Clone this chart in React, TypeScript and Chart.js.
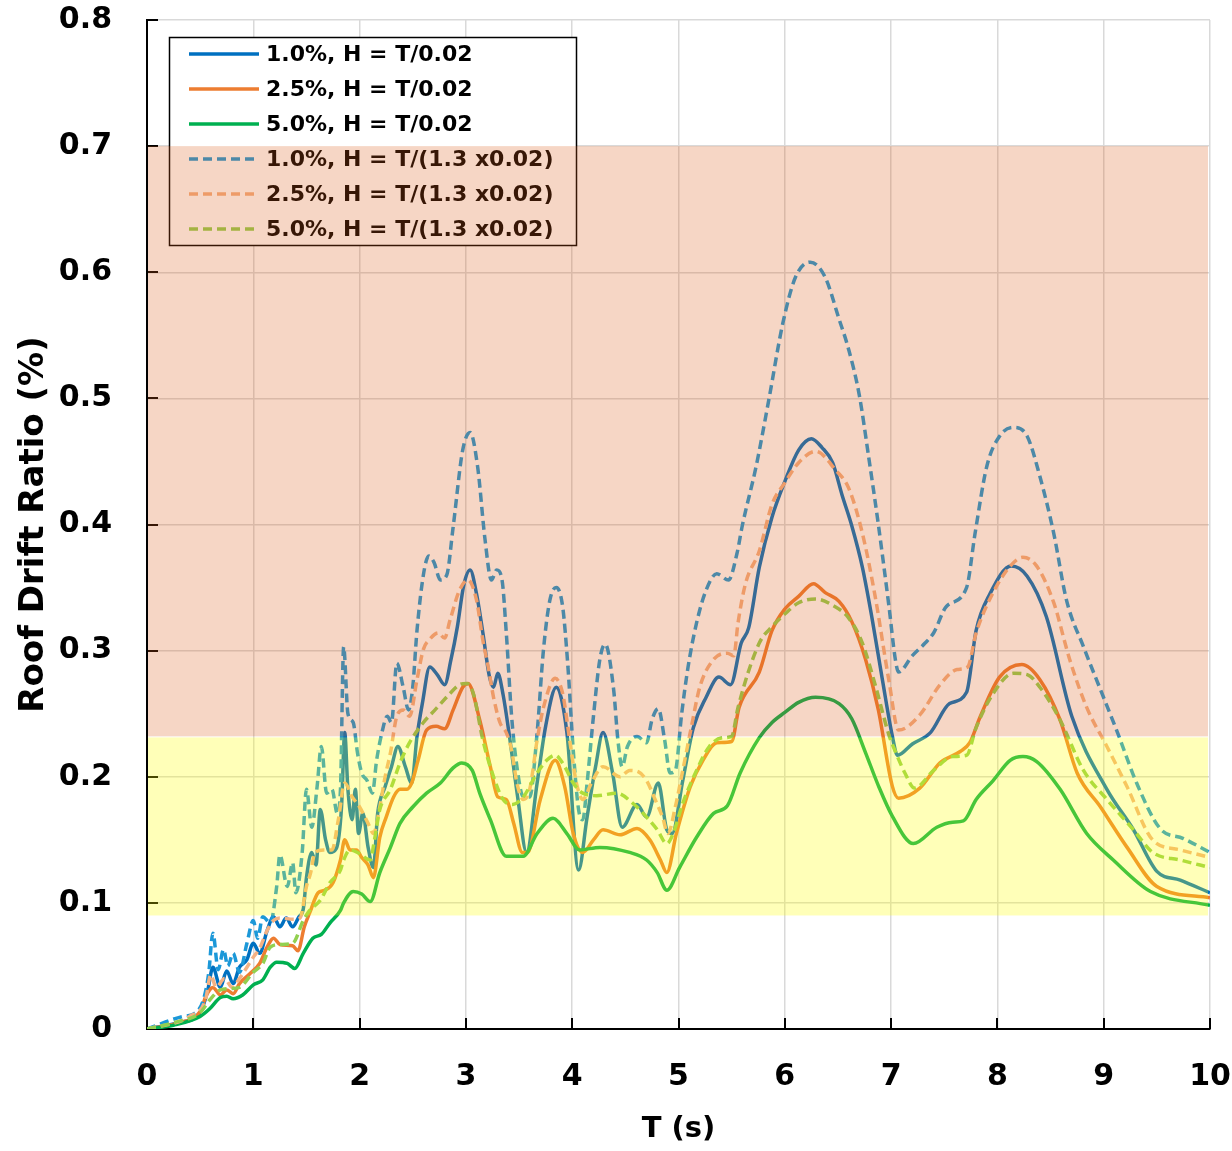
import React, { useEffect, useRef } from 'react';
import { Chart, registerables } from 'chart.js';

Chart.register(...registerables);

// ---------- DATA ----------
const T_SOLID_10 = [0, 0.3, 0.5, 0.57, 0.62, 0.69, 0.75, 0.81, 0.87, 0.94, 1.0, 1.06, 1.13, 1.19, 1.25, 1.31, 1.37, 1.43, 1.47, 1.5, 1.55, 1.59, 1.63, 1.68, 1.72, 1.78, 1.83, 1.86, 1.89, 1.93, 1.96, 1.99, 2.03, 2.08, 2.13, 2.17, 2.24, 2.3, 2.36, 2.43, 2.49, 2.54, 2.59, 2.66, 2.73, 2.8, 2.86, 2.92, 2.98, 3.04, 3.1, 3.16, 3.22, 3.26, 3.3, 3.35, 3.41, 3.49, 3.57, 3.67, 3.75, 3.85, 3.95, 4.06, 4.14, 4.22, 4.29, 4.38, 4.47, 4.61, 4.7, 4.81, 4.89, 4.94, 5.04, 5.14, 5.26, 5.38, 5.49, 5.59, 5.66, 5.76, 5.88, 6.0, 6.13, 6.25, 6.35, 6.45, 6.54, 6.63, 6.73, 6.82, 6.92, 7.01, 7.06, 7.2, 7.37, 7.55, 7.71, 7.8, 7.93, 8.13, 8.28, 8.46, 8.7, 9.03, 9.28, 9.5, 9.72, 10.0];
const V_SOLID_10 = [0, 0.005, 0.013, 0.03, 0.049, 0.033, 0.046, 0.036, 0.049, 0.055, 0.068, 0.06, 0.078, 0.089, 0.081, 0.088, 0.081, 0.089, 0.095, 0.12, 0.14, 0.13, 0.174, 0.15, 0.14, 0.143, 0.176, 0.235, 0.19, 0.166, 0.19, 0.155, 0.171, 0.144, 0.128, 0.171, 0.192, 0.208, 0.224, 0.208, 0.195, 0.232, 0.258, 0.287, 0.281, 0.273, 0.293, 0.319, 0.352, 0.364, 0.345, 0.314, 0.28, 0.271, 0.282, 0.265, 0.232, 0.182, 0.14, 0.195, 0.24, 0.271, 0.235, 0.126, 0.168, 0.208, 0.235, 0.203, 0.16, 0.178, 0.168, 0.195, 0.158, 0.155, 0.197, 0.239, 0.263, 0.279, 0.273, 0.306, 0.318, 0.366, 0.406, 0.434, 0.459, 0.468, 0.461, 0.449, 0.423, 0.399, 0.366, 0.326, 0.276, 0.233, 0.217, 0.226, 0.235, 0.258, 0.267, 0.316, 0.345, 0.367, 0.359, 0.327, 0.248, 0.19, 0.158, 0.125, 0.118, 0.108];

const T_SOLID_25 = [0, 0.3, 0.5, 0.56, 0.62, 0.69, 0.75, 0.81, 0.87, 0.97, 1.06, 1.13, 1.19, 1.25, 1.37, 1.42, 1.48, 1.53, 1.61, 1.67, 1.75, 1.82, 1.86, 1.91, 1.97, 2.02, 2.08, 2.13, 2.19, 2.25, 2.32, 2.38, 2.44, 2.49, 2.55, 2.63, 2.72, 2.8, 2.88, 2.97, 3.02, 3.13, 3.23, 3.3, 3.38, 3.45, 3.53, 3.58, 3.7, 3.84, 3.93, 4.01, 4.1, 4.2, 4.29, 4.45, 4.61, 4.73, 4.83, 4.89, 4.98, 5.11, 5.23, 5.36, 5.5, 5.57, 5.76, 5.88, 6.0, 6.13, 6.27, 6.38, 6.51, 6.63, 6.76, 6.88, 7.01, 7.07, 7.27, 7.46, 7.65, 7.74, 7.84, 8.02, 8.23, 8.4, 8.59, 8.75, 8.97, 9.22, 9.5, 10.0];
const V_SOLID_25 = [0, 0.005, 0.014, 0.027, 0.033, 0.027, 0.031, 0.028, 0.036, 0.044, 0.052, 0.065, 0.072, 0.067, 0.066, 0.062, 0.081, 0.092, 0.108, 0.11, 0.116, 0.134, 0.15, 0.142, 0.142, 0.136, 0.13, 0.12, 0.152, 0.168, 0.184, 0.19, 0.19, 0.195, 0.213, 0.237, 0.24, 0.238, 0.253, 0.271, 0.274, 0.245, 0.208, 0.184, 0.182, 0.163, 0.14, 0.14, 0.182, 0.213, 0.192, 0.155, 0.14, 0.15, 0.158, 0.154, 0.159, 0.15, 0.134, 0.124, 0.155, 0.192, 0.213, 0.227, 0.228, 0.255, 0.283, 0.316, 0.333, 0.343, 0.353, 0.346, 0.339, 0.323, 0.293, 0.253, 0.193, 0.183, 0.191, 0.211, 0.22, 0.227, 0.248, 0.279, 0.289, 0.277, 0.245, 0.203, 0.176, 0.144, 0.113, 0.104];

const T_SOLID_50 = [0, 0.25, 0.5, 0.59, 0.69, 0.75, 0.81, 0.9, 1.0, 1.09, 1.16, 1.22, 1.32, 1.39, 1.47, 1.56, 1.64, 1.72, 1.82, 1.85, 1.94, 2.02, 2.1, 2.19, 2.29, 2.38, 2.5, 2.63, 2.76, 2.88, 2.96, 3.06, 3.13, 3.23, 3.38, 3.54, 3.67, 3.82, 3.95, 4.07, 4.26, 4.54, 4.7, 4.8, 4.89, 5.01, 5.17, 5.33, 5.46, 5.58, 5.76, 5.88, 6.0, 6.13, 6.29, 6.51, 6.63, 6.76, 6.88, 7.01, 7.21, 7.43, 7.58, 7.68, 7.8, 7.96, 8.12, 8.24, 8.37, 8.59, 8.84, 9.09, 9.44, 10.0];
const V_SOLID_50 = [0, 0.003, 0.01, 0.016, 0.025, 0.026, 0.024, 0.027, 0.035, 0.039, 0.049, 0.053, 0.052, 0.048, 0.06, 0.072, 0.075, 0.084, 0.094, 0.1, 0.109, 0.107, 0.101, 0.124, 0.144, 0.163, 0.176, 0.187, 0.195, 0.207, 0.211, 0.205, 0.187, 0.166, 0.137, 0.137, 0.155, 0.167, 0.155, 0.142, 0.144, 0.14, 0.134, 0.124, 0.11, 0.128, 0.152, 0.171, 0.177, 0.203, 0.231, 0.243, 0.251, 0.259, 0.263, 0.258, 0.246, 0.219, 0.193, 0.169, 0.147, 0.16, 0.164, 0.165, 0.182, 0.197, 0.213, 0.216, 0.212, 0.19, 0.155, 0.134, 0.109, 0.098];

const T_DASH_10 = [0, 0.34, 0.44, 0.53, 0.58, 0.62, 0.67, 0.72, 0.76, 0.81, 0.87, 0.94, 1.0, 1.04, 1.09, 1.16, 1.22, 1.25, 1.32, 1.37, 1.4, 1.46, 1.5, 1.55, 1.6, 1.64, 1.69, 1.74, 1.79, 1.82, 1.85, 1.89, 1.94, 1.98, 2.02, 2.07, 2.12, 2.16, 2.21, 2.26, 2.3, 2.35, 2.41, 2.46, 2.5, 2.54, 2.6, 2.65, 2.7, 2.76, 2.82, 2.88, 2.97, 3.04, 3.11, 3.18, 3.24, 3.29, 3.34, 3.38, 3.43, 3.48, 3.54, 3.6, 3.67, 3.73, 3.79, 3.85, 3.91, 3.96, 4.01, 4.06, 4.1, 4.14, 4.2, 4.26, 4.31, 4.39, 4.43, 4.47, 4.52, 4.61, 4.7, 4.75, 4.81, 4.87, 4.92, 4.97, 5.03, 5.09, 5.17, 5.26, 5.36, 5.47, 5.55, 5.6, 5.73, 5.85, 5.98, 6.1, 6.24, 6.38, 6.51, 6.6, 6.7, 6.79, 6.88, 6.98, 7.04, 7.07, 7.2, 7.32, 7.4, 7.52, 7.71, 7.79, 7.9, 8.02, 8.15, 8.28, 8.4, 8.53, 8.65, 8.81, 8.97, 9.13, 9.31, 9.53, 9.75, 10.0];
const V_DASH_10 = [0, 0.01, 0.012, 0.023, 0.044, 0.076, 0.047, 0.063, 0.05, 0.06, 0.045, 0.068, 0.086, 0.072, 0.089, 0.084, 0.113, 0.138, 0.113, 0.132, 0.108, 0.14, 0.19, 0.16, 0.192, 0.224, 0.187, 0.19, 0.171, 0.19, 0.303, 0.25, 0.243, 0.219, 0.203, 0.197, 0.187, 0.213, 0.235, 0.248, 0.243, 0.29, 0.271, 0.253, 0.271, 0.316, 0.36, 0.375, 0.37, 0.356, 0.36, 0.398, 0.459, 0.473, 0.446, 0.388, 0.356, 0.364, 0.356, 0.314, 0.248, 0.208, 0.184, 0.184, 0.235, 0.301, 0.34, 0.35, 0.335, 0.287, 0.221, 0.174, 0.166, 0.195, 0.248, 0.293, 0.305, 0.269, 0.229, 0.208, 0.224, 0.232, 0.227, 0.245, 0.254, 0.229, 0.203, 0.205, 0.25, 0.287, 0.322, 0.348, 0.361, 0.356, 0.377, 0.399, 0.446, 0.499, 0.559, 0.596, 0.608, 0.596, 0.563, 0.539, 0.503, 0.453, 0.4, 0.335, 0.293, 0.283, 0.296, 0.306, 0.314, 0.335, 0.35, 0.393, 0.446, 0.47, 0.477, 0.47, 0.438, 0.393, 0.34, 0.303, 0.269, 0.235, 0.195, 0.159, 0.151, 0.14];

const T_DASH_25 = [0, 0.4, 0.55, 0.6, 0.65, 0.73, 0.8, 0.87, 0.94, 1.0, 1.06, 1.13, 1.19, 1.25, 1.38, 1.44, 1.5, 1.54, 1.58, 1.66, 1.74, 1.8, 1.86, 1.93, 2.0, 2.08, 2.13, 2.19, 2.24, 2.29, 2.35, 2.41, 2.47, 2.54, 2.6, 2.66, 2.74, 2.8, 2.85, 2.94, 3.02, 3.1, 3.16, 3.21, 3.26, 3.32, 3.38, 3.43, 3.48, 3.54, 3.6, 3.67, 3.73, 3.84, 3.91, 3.98, 4.04, 4.1, 4.18, 4.29, 4.45, 4.54, 4.62, 4.7, 4.78, 4.85, 4.9, 4.97, 5.04, 5.12, 5.2, 5.33, 5.46, 5.52, 5.56, 5.63, 5.76, 5.88, 6.0, 6.13, 6.29, 6.48, 6.6, 6.73, 6.85, 6.98, 7.07, 7.27, 7.46, 7.62, 7.72, 7.8, 7.96, 8.12, 8.24, 8.37, 8.53, 8.68, 8.84, 9.03, 9.22, 9.46, 9.72, 10.0];
const V_DASH_25 = [0, 0.01, 0.023, 0.043, 0.033, 0.04, 0.033, 0.04, 0.049, 0.057, 0.064, 0.078, 0.086, 0.088, 0.087, 0.088, 0.113, 0.124, 0.14, 0.142, 0.142, 0.166, 0.195, 0.184, 0.176, 0.163, 0.155, 0.176, 0.2, 0.219, 0.248, 0.253, 0.248, 0.277, 0.301, 0.309, 0.314, 0.31, 0.324, 0.348, 0.356, 0.34, 0.308, 0.287, 0.263, 0.243, 0.235, 0.221, 0.195, 0.182, 0.19, 0.229, 0.255, 0.278, 0.266, 0.227, 0.195, 0.182, 0.195, 0.208, 0.2, 0.205, 0.204, 0.197, 0.182, 0.168, 0.155, 0.176, 0.205, 0.239, 0.271, 0.293, 0.298, 0.296, 0.322, 0.353, 0.379, 0.416, 0.433, 0.449, 0.458, 0.443, 0.429, 0.393, 0.343, 0.276, 0.237, 0.249, 0.273, 0.285, 0.287, 0.314, 0.346, 0.367, 0.374, 0.367, 0.338, 0.293, 0.255, 0.224, 0.192, 0.15, 0.142, 0.136];

const T_DASH_50 = [0, 0.25, 0.5, 0.59, 0.69, 0.78, 0.87, 1.0, 1.09, 1.16, 1.25, 1.37, 1.47, 1.53, 1.63, 1.72, 1.82, 1.85, 1.91, 2.0, 2.1, 2.14, 2.19, 2.29, 2.38, 2.47, 2.6, 2.72, 2.85, 2.94, 3.01, 3.07, 3.16, 3.26, 3.35, 3.44, 3.54, 3.67, 3.76, 3.84, 3.93, 4.01, 4.1, 4.23, 4.42, 4.57, 4.7, 4.8, 4.89, 4.95, 5.04, 5.17, 5.29, 5.42, 5.5, 5.56, 5.76, 5.88, 6.0, 6.13, 6.29, 6.45, 6.6, 6.73, 6.85, 6.98, 7.05, 7.13, 7.22, 7.4, 7.58, 7.71, 7.8, 7.96, 8.15, 8.28, 8.4, 8.59, 8.81, 9.03, 9.28, 9.46, 9.72, 10.0];
const V_DASH_50 = [0, 0.005, 0.013, 0.023, 0.031, 0.032, 0.033, 0.045, 0.052, 0.065, 0.067, 0.068, 0.086, 0.094, 0.102, 0.116, 0.126, 0.134, 0.142, 0.139, 0.134, 0.15, 0.174, 0.19, 0.211, 0.227, 0.243, 0.254, 0.266, 0.273, 0.274, 0.266, 0.229, 0.2, 0.182, 0.178, 0.184, 0.203, 0.213, 0.217, 0.208, 0.195, 0.187, 0.185, 0.187, 0.179, 0.168, 0.158, 0.147, 0.155, 0.179, 0.205, 0.224, 0.231, 0.232, 0.255, 0.306, 0.319, 0.329, 0.338, 0.341, 0.336, 0.326, 0.306, 0.273, 0.233, 0.218, 0.203, 0.191, 0.205, 0.216, 0.217, 0.239, 0.266, 0.282, 0.281, 0.271, 0.245, 0.205, 0.182, 0.158, 0.14, 0.134, 0.128];

const SERIES_LABELS = [
  '1.0%, H = T/0.02',
  '2.5%, H = T/0.02',
  '5.0%, H = T/0.02',
  '1.0%, H = T/(1.3 x0.02)',
  '2.5%, H = T/(1.3 x0.02)',
  '5.0%, H = T/(1.3 x0.02)',
];
const SERIES_T = [T_SOLID_10, T_SOLID_25, T_SOLID_50, T_DASH_10, T_DASH_25, T_DASH_50];
const SERIES_V = [V_SOLID_10, V_SOLID_25, V_SOLID_50, V_DASH_10, V_DASH_25, V_DASH_50];
const SERIES_COLORS = ['#0070C0', '#ED7D31', '#00B050', '#1C98D8', '#F4B183', '#92D050'];
const SERIES_DASHED = [false, false, false, true, true, true];

const X_MIN = 0;
const X_MAX = 10;
const X_STEP = 1;
const Y_MIN = 0;
const Y_MAX = 0.8;
const Y_STEP = 0.1;

// shaded ranges of roof drift ratio (%)
const SALMON_BAND = [0.232, 0.7];
const YELLOW_BAND = [0.09, 0.232];

const X_TITLE = 'T (s)';
const Y_TITLE = 'Roof Drift Ratio (%)';

const FONT = '"DejaVu Sans", "Liberation Sans", Arial, sans-serif';
const LINE_W = 3.5;
const DASH = [9, 5];

const overlayPlugin = {
  id: 'overlayPlugin',
  beforeDatasetsDraw(chart: any) {
    const { ctx, chartArea, scales } = chart;
    const xs = scales.x;
    const ys = scales.y;
    ctx.save();
    ctx.strokeStyle = '#000';
    ctx.lineWidth = 2;
    ctx.beginPath();
    for (let v = X_MIN; v <= X_MAX + 1e-9; v += X_STEP) {
      const px = Math.round(xs.getPixelForValue(v));
      ctx.moveTo(px, chartArea.bottom);
      ctx.lineTo(px, chartArea.bottom - 11);
    }
    for (let i = 0; i <= Math.round((Y_MAX - Y_MIN) / Y_STEP); i++) {
      const py = Math.round(ys.getPixelForValue(Y_MIN + i * Y_STEP));
      ctx.moveTo(chartArea.left, py);
      ctx.lineTo(chartArea.left + 11, py);
    }
    ctx.stroke();
    ctx.restore();
  },
  afterDatasetsDraw(chart: any) {
    const { ctx, chartArea, scales } = chart;
    const ys = scales.y;
    ctx.save();
    // legend box
    const lx = chartArea.left + 22;
    const ly = chartArea.top + 17;
    const lw = 407;
    const lh = 208;
    ctx.fillStyle = '#ffffff';
    ctx.fillRect(lx, ly, lw, lh);
    ctx.strokeStyle = '#000';
    ctx.lineWidth = 1.5;
    ctx.strokeRect(lx + 0.5, ly + 0.5, lw, lh);
    ctx.font = `bold 22px ${FONT}`;
    ctx.textBaseline = 'middle';
    ctx.textAlign = 'left';
    SERIES_LABELS.forEach((label, i) => {
      const cy = ly + 17 + i * 35;
      ctx.beginPath();
      ctx.strokeStyle = SERIES_COLORS[i];
      ctx.lineWidth = LINE_W;
      ctx.setLineDash(SERIES_DASHED[i] ? DASH : []);
      ctx.moveTo(lx + 20, cy);
      ctx.lineTo(lx + 90, cy);
      ctx.stroke();
      ctx.setLineDash([]);
      ctx.fillStyle = '#000';
      ctx.fillText(label, lx + 97, cy + 1);
    });
    // translucent bands over everything in the plot
    const left = chartArea.left + 1;
    const width = chartArea.right - chartArea.left - 3;
    const sTop = ys.getPixelForValue(SALMON_BAND[1]);
    const sBot = ys.getPixelForValue(SALMON_BAND[0]);
    const yTop = ys.getPixelForValue(YELLOW_BAND[1]);
    const yBot = ys.getPixelForValue(YELLOW_BAND[0]);
    ctx.fillStyle = 'rgba(219, 91, 23, 0.25)';
    ctx.fillRect(left, sTop, width, sBot - sTop);
    ctx.fillStyle = 'rgba(255, 255, 0, 0.28)';
    ctx.fillRect(left, yTop + 1, width, yBot - yTop - 1);
    ctx.restore();
  },
};

export default function App() {
  const canvasRef = useRef<HTMLCanvasElement | null>(null);

  useEffect(() => {
    const canvas = canvasRef.current;
    if (!canvas) return;
    const datasets = SERIES_LABELS.map((label, i) => ({
      label,
      data: SERIES_T[i].map((t, k) => ({ x: t, y: SERIES_V[i][k] })),
      borderColor: SERIES_COLORS[i],
      backgroundColor: SERIES_COLORS[i],
      borderWidth: LINE_W,
      borderDash: SERIES_DASHED[i] ? DASH : [],
      pointRadius: 0,
      fill: false,
      tension: 0.4,
      cubicInterpolationMode: 'monotone' as const,
      order: SERIES_LABELS.length - i,
    }));

    const chart = new Chart(canvas, {
      type: 'line',
      data: { datasets },
      options: {
        responsive: false,
        devicePixelRatio: 1,
        animation: false,
        layout: { padding: { top: 20, right: 22, left: 0, bottom: 0 } },
        plugins: {
          legend: { display: false },
          tooltip: { enabled: false },
        },
        scales: {
          x: {
            type: 'linear',
            min: X_MIN,
            max: X_MAX,
            ticks: {
              stepSize: X_STEP,
              padding: 30,
              color: '#000',
              maxRotation: 0,
              autoSkip: false,
              font: { family: FONT, weight: 'bold', size: 30 },
            },
            grid: { color: '#D9D9D9', lineWidth: 1.5, drawTicks: false },
            border: { color: '#000', width: 2 },
            title: {
              display: true,
              text: X_TITLE,
              color: '#000',
              font: { family: FONT, weight: 'bold', size: 29 },
              padding: { top: 0, bottom: 4 },
            },
            afterFit: (s: any) => {
              s.height = 122;
              s.paddingLeft = 0;
              s.paddingRight = 0;
            },
          },
          y: {
            type: 'linear',
            min: Y_MIN,
            max: Y_MAX,
            ticks: {
              stepSize: Y_STEP,
              padding: 35,
              color: '#000',
              font: { family: FONT, weight: 'bold', size: 30 },
              callback: (v: any) => (Math.abs(v) < 1e-9 ? '0' : Number(v).toFixed(1)),
            },
            grid: { color: '#D9D9D9', lineWidth: 1.5, drawTicks: false },
            border: { color: '#000', width: 2 },
            title: {
              display: true,
              text: Y_TITLE,
              color: '#000',
              font: { family: FONT, weight: 'bold', size: 34 },
              padding: { top: 14, bottom: 0 },
            },
            afterFit: (s: any) => {
              s.width = 147;
              s.paddingTop = 0;
              s.paddingBottom = 0;
            },
          },
        },
      },
      plugins: [overlayPlugin],
    });

    return () => chart.destroy();
  }, []);

  return (
    <div style={{ position: 'absolute', left: 0, top: 0, width: 1232, height: 1151, background: '#fff' }}>
      <canvas ref={canvasRef} width={1232} height={1151} style={{ display: 'block', width: 1232, height: 1151 }} />
    </div>
  );
}
